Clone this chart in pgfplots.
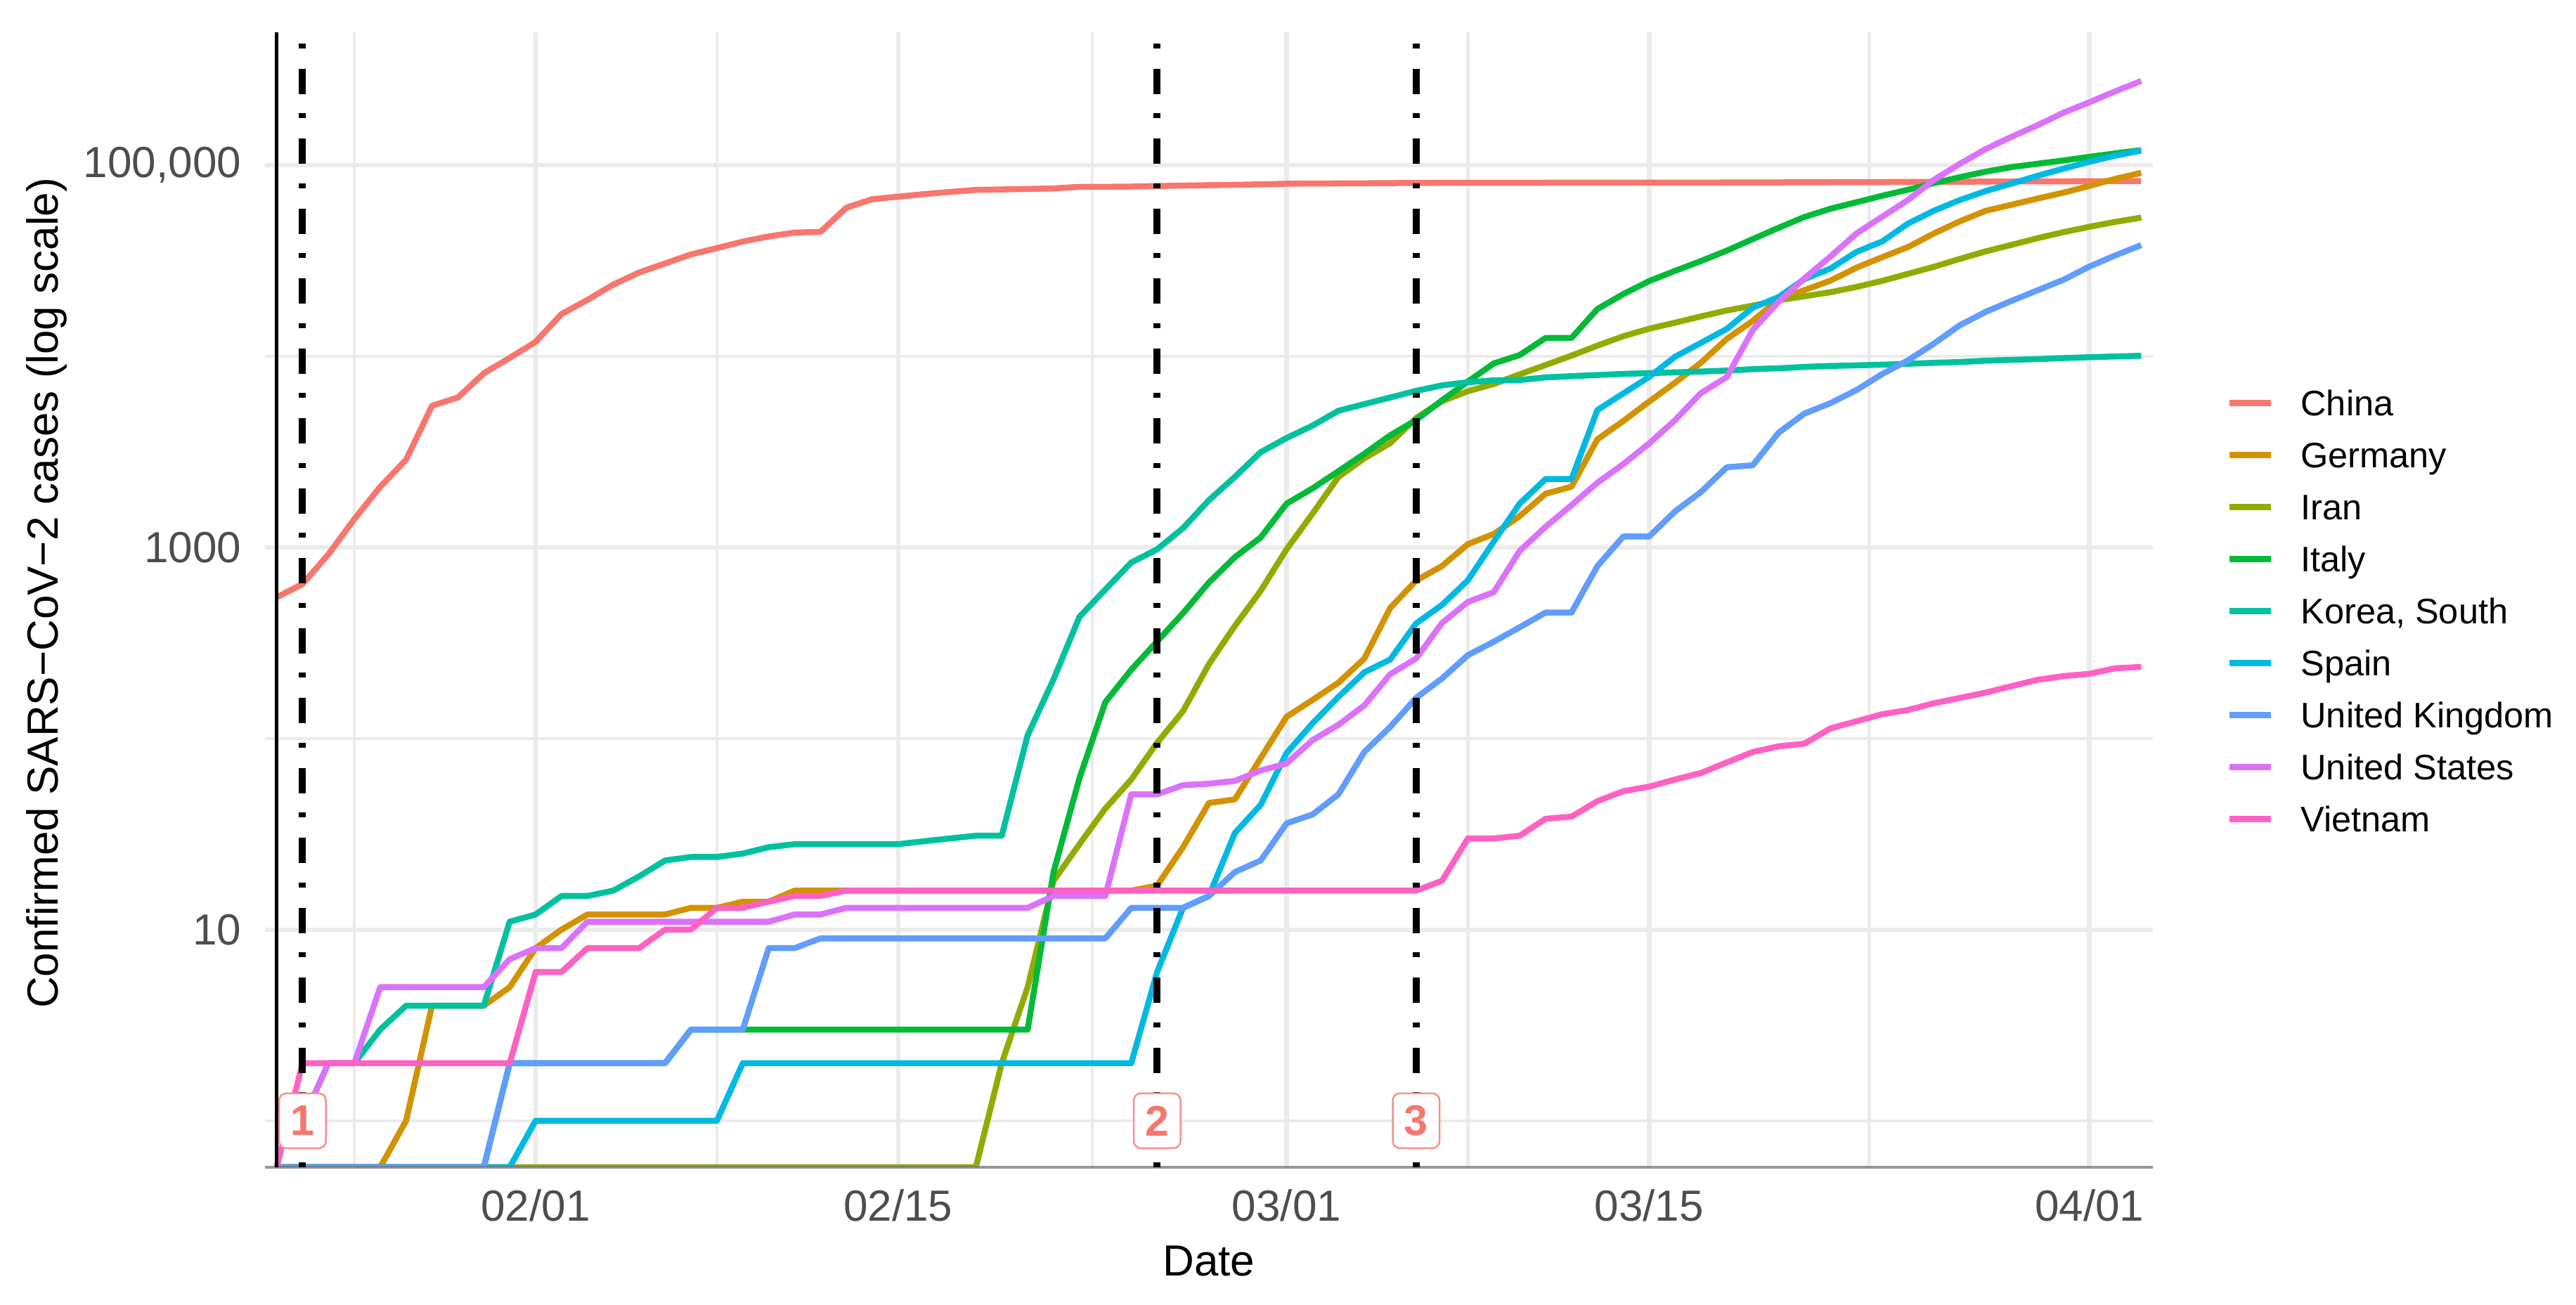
\documentclass[border=0pt]{standalone}
\usepackage{fontspec}
\setmainfont{Liberation Sans}
\usepackage{pgfplots}
\usepackage{pgfplotstable}
\pgfplotsset{compat=1.18}

\definecolor{cChina}{HTML}{F8766D}
\definecolor{cGermany}{HTML}{D39200}
\definecolor{cIran}{HTML}{93AA00}
\definecolor{cItaly}{HTML}{00BA38}
\definecolor{cKorea}{HTML}{00C19F}
\definecolor{cSpain}{HTML}{00B9E3}
\definecolor{cUK}{HTML}{619CFF}
\definecolor{cUS}{HTML}{DB72FB}
\definecolor{cVietnam}{HTML}{FF61C3}
\definecolor{grid92}{HTML}{EBEBEB}
\definecolor{tick30}{HTML}{4D4D4D}

% d = days since 01/22; confirmed cases (0 = no case yet)
\pgfplotstableread{
d China Germany Iran Italy Korea Spain UK US Vietnam
0 548 0 0 0 1 0 0 1 0
1 643 0 0 0 1 0 0 1 2
2 920 0 0 0 2 0 0 2 2
3 1406 0 0 0 2 0 0 2 2
4 2075 0 0 0 3 0 0 5 2
5 2877 1 0 0 4 0 0 5 2
6 5509 4 0 0 4 0 0 5 2
7 6087 4 0 0 4 0 0 5 2
8 8141 4 0 0 4 0 0 5 2
9 9802 5 0 2 11 0 2 7 2
10 11891 8 0 2 12 1 2 8 6
11 16630 10 0 2 15 1 2 8 6
12 19716 12 0 2 15 1 2 11 8
13 23707 12 0 2 16 1 2 11 8
14 27440 12 0 2 19 1 2 11 8
15 30587 12 0 2 23 1 2 11 10
16 34110 13 0 3 24 1 3 11 10
17 36814 13 0 3 24 1 3 11 13
18 39829 14 0 3 25 2 3 11 13
19 42354 14 0 3 27 2 8 11 14
20 44386 16 0 3 28 2 8 12 15
21 44759 16 0 3 28 2 9 12 15
22 59895 16 0 3 28 2 9 13 16
23 66358 16 0 3 28 2 9 13 16
24 68413 16 0 3 28 2 9 13 16
25 70513 16 0 3 29 2 9 13 16
26 72434 16 0 3 30 2 9 13 16
27 74211 16 0 3 31 2 9 13 16
28 74619 16 2 3 31 2 9 13 16
29 75077 16 5 3 104 2 9 13 16
30 75550 16 18 20 204 2 9 15 16
31 77001 16 28 62 433 2 9 15 16
32 77022 16 43 155 602 2 9 15 16
33 77241 16 61 229 833 2 13 51 16
34 77754 17 95 322 977 6 13 51 16
35 78166 27 139 453 1261 13 13 57 16
36 78600 46 245 655 1766 15 15 58 16
37 78928 48 388 888 2337 32 20 60 16
38 79356 79 593 1128 3150 45 23 68 16
39 79932 130 978 1694 3736 84 36 74 16
40 80136 159 1501 2036 4335 120 40 98 16
41 80261 196 2336 2502 5186 165 51 118 16
42 80386 262 2922 3089 5621 222 85 149 16
43 80537 482 3513 3858 6088 259 115 217 16
44 80690 670 4747 4636 6593 400 163 262 16
45 80770 799 5823 5883 7041 500 206 402 18
46 80823 1040 6566 7375 7314 673 273 518 30
47 80860 1176 7161 9172 7478 1073 321 583 30
48 80887 1457 8042 10149 7513 1695 382 959 31
49 80921 1908 9000 12462 7755 2277 456 1281 38
50 80932 2078 10075 12462 7869 2277 456 1663 39
51 80945 3675 11364 17660 7979 5232 798 2179 47
52 80977 4585 12729 21157 8086 6391 1140 2727 53
53 81003 5795 13938 24747 8162 7798 1140 3499 56
54 81033 7272 14991 27980 8236 9942 1543 4632 61
55 81058 9257 16169 31506 8320 11748 1950 6421 66
56 81102 12327 17361 35713 8413 13910 2626 7783 75
57 81156 15320 18407 41035 8565 17963 2689 13747 85
58 81250 19848 19644 47021 8652 20410 3983 19273 91
59 81305 22213 20610 53578 8799 25374 5018 25600 94
60 81435 24873 21638 59138 8897 28768 5683 33276 113
61 81498 29056 23049 63927 8961 35136 6650 43843 123
62 81591 32986 24811 69176 9037 39885 8077 53736 134
63 81661 37323 27017 74386 9137 49515 9529 65778 141
64 81782 43938 29406 80589 9241 57786 11658 83836 153
65 81897 50871 32332 86498 9332 65719 14543 101657 163
66 81999 57695 35408 92472 9478 73235 17089 121465 174
67 82122 62095 38309 97689 9583 80110 19522 140909 188
68 82198 66885 41495 101739 9661 87956 22141 161831 203
69 82279 71808 44605 105792 9786 95923 25150 188172 212
70 82361 77872 47593 110574 9887 104118 29474 213372 218
71 82432 84794 50468 115242 9976 112065 33718 243453 233
72 82511 91159 53183 119827 10062 119199 38168 275586 237
}\datatab

\tikzset{
  mark box/.style={draw=cChina!80, line width=0.5pt, fill=white, rounded corners=2pt,
    text=cChina, font=\fontsize{12.2}{14}\selectfont\bfseries,
    minimum width=13.3pt, minimum height=15.6pt, inner sep=0pt},
  dotdash/.style={black, line width=2pt, dash pattern=on 1.4pt off 5.5pt on 7.2pt off 5.8pt},
}

\begin{document}
\begin{tikzpicture}
\useasboundingbox (0,0) rectangle (733pt,371.4pt);
\begin{axis}[
  at={(75.4pt,39.2pt)}, anchor=south west,
  scale only axis, width=537.2pt, height=323pt,
  xmin=-0.45, xmax=72.45,
  ymode=log, ymin=0.571, ymax=495500,
  xtick={10,24,39,53,70},
  xticklabels={02/01,02/15,03/01,03/15,04/01},
  minor xtick={3,17,31.5,46,61.5},
  ytick={10,1000,100000},
  yticklabels={10,1000,{100,000}},
  minor ytick={1,100,10000},
  grid=both,
  major grid style={draw=grid92, line width=1.3pt},
  minor grid style={draw=grid92, line width=0.9pt},
  axis line style={draw=none},
  major tick length=0pt, minor tick length=0pt,
  tick style={draw=none},
  ticklabel style={font=\fontsize{12.4}{14}\selectfont, text=tick30, inner sep=0pt},
  xticklabel shift=6.2pt, yticklabel shift=6.6pt,
  xlabel={Date},
  ylabel={Confirmed SARS−CoV−2 cases (log scale)},
  every axis x label/.style={at={(axis description cs:0.5,-0.0954)}, anchor=base,
    font=\fontsize{12.4}{14}\selectfont, inner sep=0pt},
  every axis y label/.style={at={(axis description cs:-0.1096,0.506)}, anchor=base,
    rotate=90, font=\fontsize{12.4}{14}\selectfont, inner sep=0pt},
  clip mode=individual,
  no markers,
  every axis plot/.append style={line width=1.7pt, line join=round},
  legend cell align=left,
  legend image code/.code={\draw[#1] (0pt,0pt) -- (11.9pt,0pt);},
  legend style={draw=none, fill=none, at={(axis description cs:1.0389,0.490)},
    anchor=west, inner sep=0pt, outer sep=0pt, row sep=5.6pt,
    font=\fontsize{10.1}{12}\selectfont,
    nodes={inner sep=0pt, text height=8.2pt, text depth=1pt},
    /tikz/every odd column/.append style={column sep=7.6pt}},
]
\addplot[cChina] table[x=d, y expr={max(\thisrow{China},0.571)}] {\datatab};
\addlegendentry{China}
\addplot[cGermany] table[x=d, y expr={max(\thisrow{Germany},0.571)}] {\datatab};
\addlegendentry{Germany}
\addplot[cIran] table[x=d, y expr={max(\thisrow{Iran},0.571)}] {\datatab};
\addlegendentry{Iran}
\addplot[cItaly] table[x=d, y expr={max(\thisrow{Italy},0.571)}] {\datatab};
\addlegendentry{Italy}
\addplot[cKorea] table[x=d, y expr={max(\thisrow{Korea},0.571)}] {\datatab};
\addlegendentry{Korea, South}
\addplot[cSpain] table[x=d, y expr={max(\thisrow{Spain},0.571)}] {\datatab};
\addlegendentry{Spain}
\addplot[cUK] table[x=d, y expr={max(\thisrow{UK},0.571)}] {\datatab};
\addlegendentry{United Kingdom}
\addplot[cUS] table[x=d, y expr={max(\thisrow{US},0.571)}] {\datatab};
\addlegendentry{United States}
\addplot[cVietnam] table[x=d, y expr={max(\thisrow{Vietnam},0.571)}] {\datatab};
\addlegendentry{Vietnam}

% bottom line of the panel
\draw[black!55, line width=0.9pt, opacity=0.75] (rel axis cs:0,0) -- (rel axis cs:1,0);
% first date, then the three marked dates
\draw[black, line width=0.9pt] (axis cs:0,0.571) -- (axis cs:0,495500);
\draw[dotdash] (axis cs:1,0.571) -- (axis cs:1,495500);
\draw[dotdash] (axis cs:34,0.571) -- (axis cs:34,495500);
\draw[dotdash] (axis cs:44,0.571) -- (axis cs:44,495500);
\node[mark box] at (axis cs:1,1) {1};
\node[mark box] at (axis cs:34,1) {2};
\node[mark box] at (axis cs:44,1) {3};
\end{axis}
\end{tikzpicture}
\end{document}
